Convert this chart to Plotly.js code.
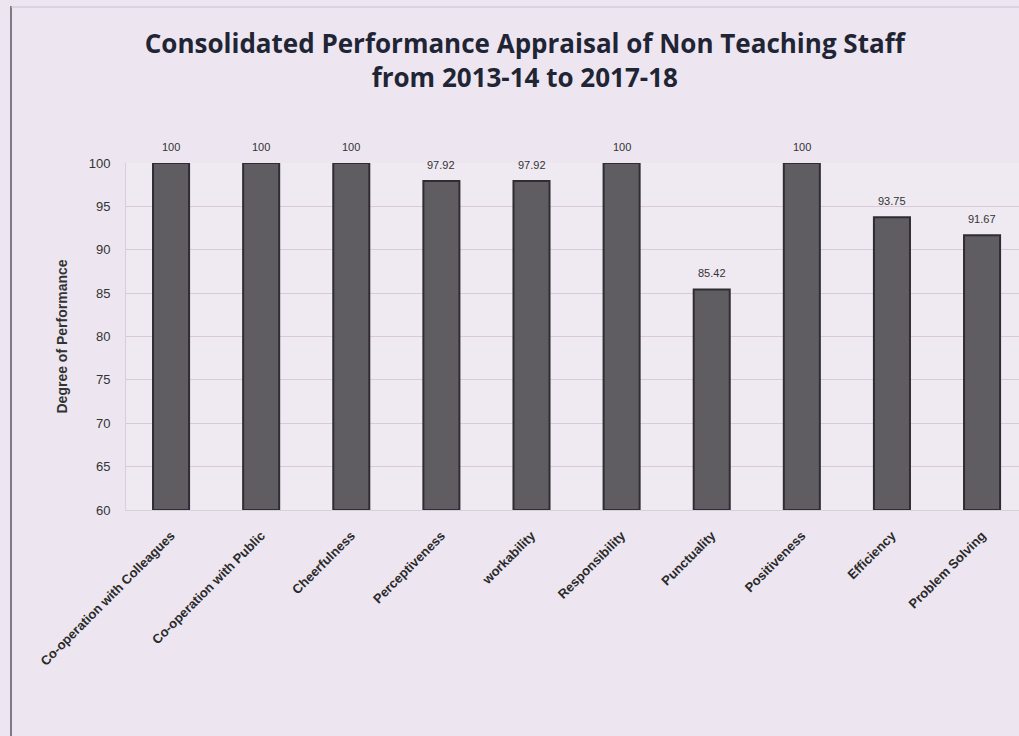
<!DOCTYPE html>
<html>
<head>
<meta charset="utf-8">
<script src="https://cdn.plot.ly/plotly-3.0.1.min.js"></script>
<style>
  html, body { margin: 0; padding: 0; background: #ede6f0; }
  #chart { width: 1019px; height: 736px; }
</style>
</head>
<body>
<div id="chart"></div>
<script>
const categories = [
  "Co-operation with Colleagues",
  "Co-operation with Public",
  "Cheerfulness",
  "Perceptiveness",
  "workability",
  "Responsibility",
  "Punctuality",
  "Positiveness",
  "Efficiency",
  "Problem Solving"
];
const values = [100, 100, 100, 97.92, 97.92, 100, 85.42, 100, 93.75, 91.67];
const valueLabels = ["100", "100", "100", "97.92", "97.92", "100", "85.42", "100", "93.75", "91.67"];
const yTicks = [60, 65, 70, 75, 80, 85, 90, 95, 100];
const yBase = 60;

const L = 126, W = 1019, plotW = W - L, T = 163, B = 226, plotH = 736 - T - B;
const trace = {
  type: "bar",
  x: categories,
  y: values.map(v => v - yBase),
  base: yBase,
  width: 0.4,
  marker: { color: "#5f5d62", line: { color: "#2f2d33", width: 2 } },
  hoverinfo: "skip"
};

const annotations = categories.map((c, i) => ({
  x: c, y: values[i], xref: "x", yref: "y",
  text: valueLabels[i], showarrow: false,
  yanchor: "bottom", yshift: 8,
  font: { family: "Liberation Sans, Arial, sans-serif", size: 11, color: "#333333" }
}));

const layout = {
  width: 1019, height: 736,
  paper_bgcolor: "#ede6f0",
  plot_bgcolor: "#efe9f2",
  margin: { l: L, r: 0, t: T, b: B },
  showlegend: false,
  title: {
    text: "<b>Consolidated Performance Appraisal of Non Teaching Staff<br>from 2013-14 to 2017-18</b>",
    font: { family: "Open Sans, Liberation Sans, sans-serif", size: 26, color: "#1f2535" },
    x: 0.515, xanchor: "center", y: 0.928, yanchor: "middle"
  },
  xaxis: {
    type: "category",
    range: [-0.5, 9.41],
    tickangle: -45,
    tickfont: { family: "Liberation Sans, Arial, sans-serif", size: 13, color: "#2a2a2a", weight: "bold" },
    ticklabelstandoff: 12,
    showgrid: false,
    ticks: "",
    showline: true, linecolor: "#d6cfdc", linewidth: 1,
    fixedrange: true
  },
  yaxis: {
    range: [60, 100],
    tickvals: yTicks,
    ticktext: yTicks.map(String),
    tickfont: { family: "Liberation Sans, Arial, sans-serif", size: 13, color: "#333333" },
    ticks: "", ticklen: 0,
    ticklabelstandoff: 12,
    showgrid: true, gridcolor: "#d9c9d9", gridwidth: 1,
    zeroline: false,
    showline: true, linecolor: "#d6cfdc",
    title: { text: "<b>Degree of Performance</b>", font: { family: "Liberation Sans, Arial, sans-serif", size: 14, color: "#333333" }, standoff: 17 },
    fixedrange: true
  },
  annotations: annotations,
  shapes: [
    { type: "line", xref: "paper", yref: "paper",
      x0: (11 - L) / plotW, x1: (11 - L) / plotW, y0: -B / plotH, y1: (736 - 6 - B) / plotH,
      line: { color: "#7d7a85", width: 2 } },
    { type: "line", xref: "paper", yref: "paper",
      x0: (11 - L) / plotW, x1: 1, y0: (736 - 7 - B) / plotH, y1: (736 - 7 - B) / plotH,
      line: { color: "#c9c0d0", width: 1 } }
  ]
};
Plotly.newPlot("chart", [trace], layout, { staticPlot: true, displayModeBar: false });
</script>
</body>
</html>
